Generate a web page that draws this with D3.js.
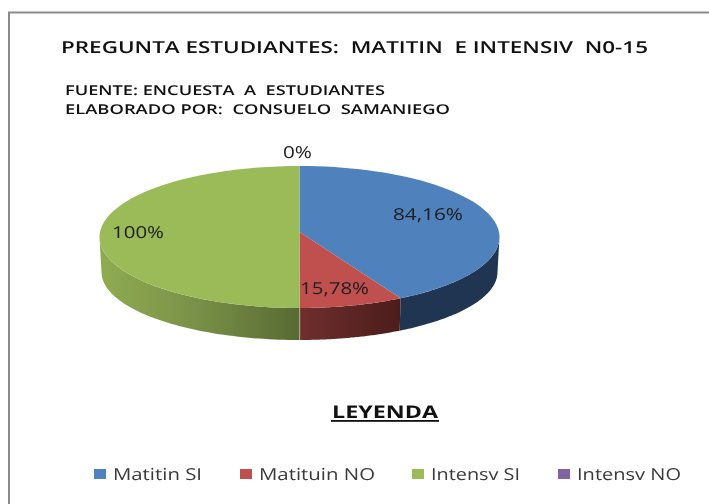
<!DOCTYPE html>
<html><head><meta charset="utf-8">
<script src="https://cdn.jsdelivr.net/npm/d3@7"></script>
<style>html,body{margin:0;padding:0;background:#fff}svg{display:block;filter:blur(0.4px)}text{font-family:"Open Sans",sans-serif;text-rendering:geometricPrecision}</style>
</head><body><div id="chart"></div>
<script>
// Data
const categories = ["Matitin SI", "Matituin NO", "Intensv SI", "Intensv NO"];
const values = [84.16, 15.78, 100, 0];
const valueLabels = ["84,16%", "15,78%", "100%", "0%"];
const colors = ["#4f81bd", "#c0504d", "#9bbb59", "#8064a2"];

// Layout
const W = 709, H = 504;
const top3d = {cx: 299.5, cy: 237, rx: 200, ry: 71, apexY: 232};
const bottom3d = {cx: 299.5, cy: 272, rx: 198, ry: 68};
const labelLayout = [
  {x: 393, w: 70, y: 220}, {x: 300, w: 69, y: 294}, {x: 112, w: 52, y: 237.5}, {x: 283, w: 29, y: 158}
];
const legendLayout = [
  {mx: 94, tx: 113, w: 89}, {mx: 240, tx: 259, w: 116}, {mx: 412, tx: 431, w: 89}, {mx: 558, tx: 577, w: 104}
];

const svg = d3.select("#chart").append("svg").attr("width", W).attr("height", H);
svg.append("rect").attr("width", W).attr("height", H).attr("fill", "#fff");
const defs = svg.append("defs");
function grad(id, x1, x2, stops) {
  const g = defs.append("linearGradient").attr("id", id).attr("gradientUnits", "userSpaceOnUse")
    .attr("x1", x1).attr("x2", x2).attr("y1", 0).attr("y2", 0);
  stops.forEach(s => g.append("stop").attr("offset", s[0]).attr("stop-color", s[1]));
}
grad("wallGreen", 103, 300, [[0, "#8fab51"], [0.45, "#7a9248"], [1, "#586a33"]]);
grad("wallRed", 300, 402, [[0, "#6f2f2d"], [1, "#4b1c1b"]]);

// Frame
svg.append("path").attr("d", `M9,${H + 4}V12.5H${W + 4}`).attr("fill", "none").attr("stroke", "#8a8a8a").attr("stroke-width", 2);

// Titles
function fitted(sel, x, y, w, size, weight) {
  return sel.append("text").attr("x", x).attr("y", y).attr("font-size", size).attr("font-weight", weight)
    .attr("fill", "#111").attr("textLength", w).attr("lengthAdjust", "spacingAndGlyphs");
}
fitted(svg, 61, 53, 587, 16.5, 600).attr("xml:space", "preserve").text("PREGUNTA ESTUDIANTES:  MATITIN  E INTENSIV  N0-15");
fitted(svg, 65, 95, 320, 13.5, 600).attr("xml:space", "preserve").text("FUENTE: ENCUESTA  A  ESTUDIANTES");
fitted(svg, 65, 113.5, 385, 13.5, 600).attr("xml:space", "preserve").text("ELABORADO POR:  CONSUELO  SAMANIEGO");

// Pie geometry
const pie = d3.pie().sort(null).startAngle(0).endAngle(2 * Math.PI);
const arcs = pie(values);
// A slice angle is measured on the flat disc; the ray from the apex finds the rim angle on the tilted ellipse.
function rimAngle(a) {
  const dx = top3d.rx * Math.sin(a), dy = -top3d.ry * Math.cos(a), oy = top3d.apexY - top3d.cy;
  const A = (dx * dx) / (top3d.rx * top3d.rx) + (dy * dy) / (top3d.ry * top3d.ry);
  const B = 2 * oy * dy / (top3d.ry * top3d.ry);
  const C = (oy * oy) / (top3d.ry * top3d.ry) - 1;
  const t = (-B + Math.sqrt(B * B - 4 * A * C)) / (2 * A);
  const px = t * dx, py = oy + t * dy;
  let r = Math.atan2(px / top3d.rx, -py / top3d.ry);
  if (r < 0) r += 2 * Math.PI;
  if (a >= 2 * Math.PI - 1e-6) r = 2 * Math.PI;
  return r;
}
const pt = (e, a) => [e.cx + e.rx * Math.sin(a), e.cy - e.ry * Math.cos(a)];
const samples = (a0, a1) => d3.range(0, 61).map(i => a0 + (a1 - a0) * i / 60);
const line = d3.line();

const wallFill = ["#1f3552", "url(#wallRed)", "url(#wallGreen)", "#4b3a60"];
const rims = arcs.map(d => ({r0: rimAngle(d.startAngle), r1: rimAngle(d.endAngle)}));

// Side walls (front half only)
const walls = svg.append("g");
rims.forEach((r, i) => {
  const a0 = Math.max(r.r0, Math.PI / 2), a1 = Math.min(r.r1, 3 * Math.PI / 2);
  if (a1 <= a0) return;
  const s = samples(a0, a1);
  const pts = s.map(a => pt(top3d, a)).concat(s.slice().reverse().map(a => pt(bottom3d, a)));
  walls.append("path").attr("d", line(pts) + "Z").attr("fill", wallFill[i]);
});
// Top surface slices
const tops = svg.append("g");
rims.forEach((r, i) => {
  if (values[i] <= 0) return;
  const pts = [[top3d.cx, top3d.apexY]].concat(samples(r.r0, r.r1).map(a => pt(top3d, a)));
  tops.append("path").attr("d", line(pts) + "Z").attr("fill", colors[i]);
});
// Seam between the red and green side walls
const seam = rims[2].r0;
svg.append("path").attr("d", line([pt(top3d, seam), pt(bottom3d, seam)]))
  .attr("stroke", "#c9b5b0").attr("stroke-width", 0.8).attr("fill", "none");

// Value labels
valueLabels.forEach((t, i) => {
  const l = labelLayout[i];
  fitted(svg, l.x, l.y, l.w, 16.5, 400).attr("fill", "#1d1d1d").text(t);
});

// Legend heading
fitted(svg, 332, 418, 106, 17.5, 700).attr("fill", "#111").text("LEYENDA");
svg.append("rect").attr("x", 331).attr("y", 420).attr("width", 108).attr("height", 1.8).attr("fill", "#111");

// Legend
const legend = svg.append("g");
categories.forEach((c, i) => {
  const l = legendLayout[i];
  legend.append("rect").attr("x", l.mx).attr("y", 469).attr("width", 12).attr("height", 10).attr("fill", colors[i]);
  fitted(legend, l.tx, 479.5, l.w, 16.5, 400).attr("fill", "#3a3a3a").text(c);
});
</script></body></html>
